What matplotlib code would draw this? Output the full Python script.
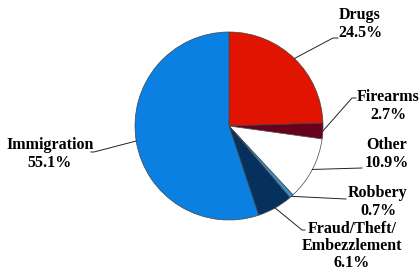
import numpy as np
import matplotlib.pyplot as plt

labels = ['Drugs', 'Firearms', 'Other', 'Robbery', 'Fraud/Theft/\nEmbezzlement', 'Immigration']
shares = [24.5, 2.7, 10.9, 0.7, 6.1, 55.1]
colors = ['#E01400', '#68001E', '#FFFFFF', '#3A90CC', '#06305E', '#0A80E2']

# label text centre and leader elbow/end, in pixel coords (y from top)
text_pos = [(360, 24), (388, 106), (387, 154), (378, 202), (352, 246), (50, 154)]
elbows = [[(333, 38), (338, 38)], [(352, 98), (356, 98)], [(362, 168)],
          [(346, 199)], [(302, 230), (305, 230)], [(94, 152), (91, 152)]]

W, H = 420, 273
fig = plt.figure(figsize=(W / 100, H / 100), dpi=100)
ax = fig.add_axes([0, 0, 1, 1])

cx, cy, r = 229, H - 126, 94
ax.pie(shares, colors=colors, startangle=90, counterclock=False,
       center=(cx, cy), radius=r, frame=True,
       wedgeprops=dict(edgecolor='#444444', linewidth=0.5))
ax.set_xlim(0, W)
ax.set_ylim(0, H)
ax.set_aspect('equal')
ax.axis('off')

cum = 0
for lab, val, tp, el in zip(labels, shares, text_pos, elbows):
    mid = np.deg2rad(90 - (cum + val / 2) * 3.6)
    cum += val
    xs = [cx + r * np.cos(mid)] + [p[0] for p in el]
    ys = [cy + r * np.sin(mid)] + [H - p[1] for p in el]
    ax.plot(xs, ys, color='#222222', lw=0.7)
    ax.text(tp[0], H - tp[1], f'{lab}\n{val:.1f}%', ha='center', va='center',
            family='Liberation Serif', fontweight='bold', fontsize=11.5,
            linespacing=1.1)

fig.savefig('out.png', dpi=100)
